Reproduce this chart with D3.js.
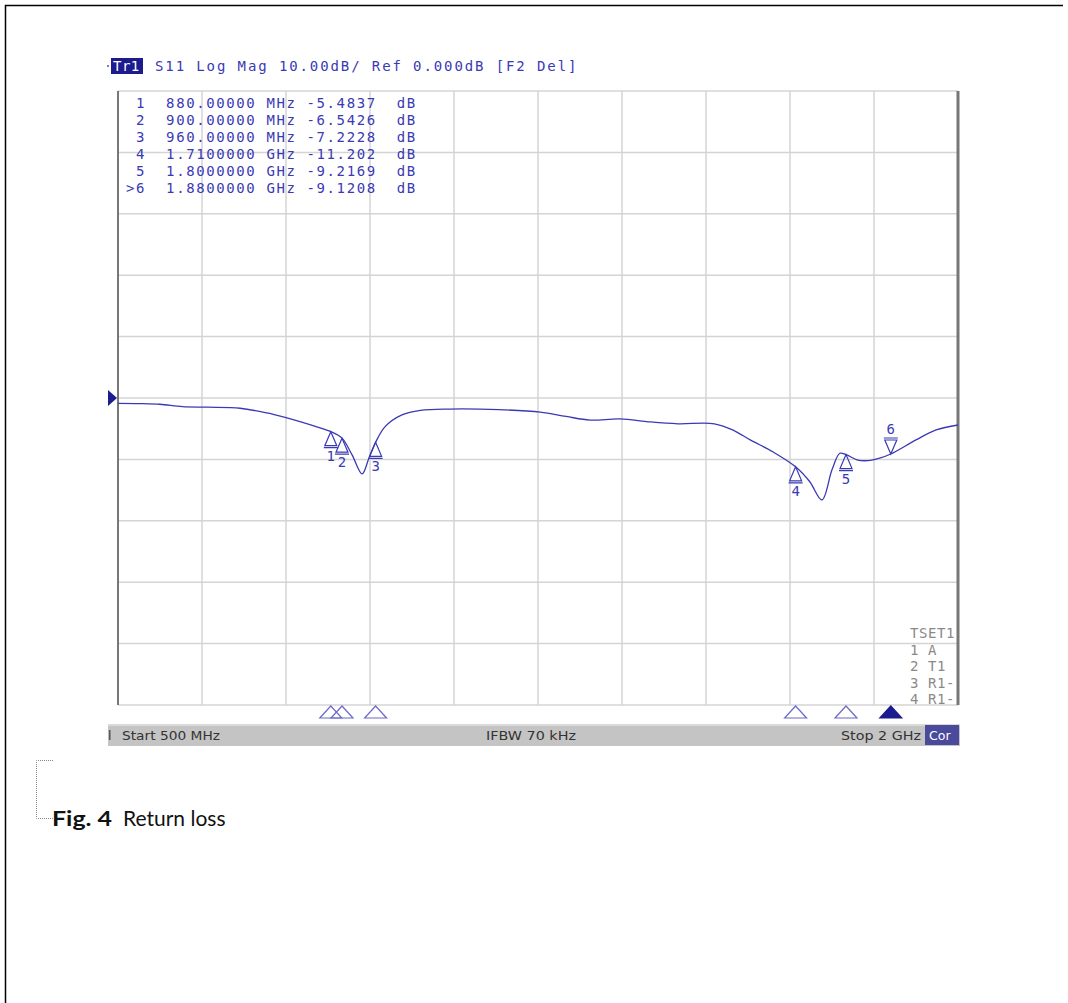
<!DOCTYPE html>
<html>
<head>
<meta charset="utf-8">
<script src="https://cdn.jsdelivr.net/npm/d3@7"></script>
<style>
  body { margin: 0; background: #fff; }
  svg { display: block; }
  .mono { font-family: "DejaVu Sans Mono", monospace; font-size: 14px; letter-spacing: 1.6px; }
</style>
</head>
<body>
<div id="chart"></div>
<script>
// trace, MHz / dB
var freqs = [500, 540, 575, 615, 660, 718, 766, 800, 825, 855, 880, 900, 918, 936, 948, 960, 977, 1007, 1040, 1093, 1180, 1254, 1300, 1343, 1396, 1450, 1500, 1565, 1600, 1629, 1670, 1710, 1735, 1757, 1775, 1789, 1800, 1821, 1839, 1860, 1880, 1925, 1961, 2000];
var dbs = [-0.86, -0.9, -1.02, -1.41, -1.5, -1.67, -2.44, -3.2, -3.85, -4.7, -5.48, -6.54, -9.27, -12.36, -9.8, -7.22, -4.67, -2.76, -2.0, -1.8, -1.9, -2.3, -3.0, -3.6, -3.4, -3.9, -4.2, -4.2, -5.3, -6.83, -8.8, -11.2, -13.6, -16.6, -11.7, -9.0, -9.22, -10.1, -10.2, -9.8, -9.12, -6.83, -5.2, -4.4];

var markerIds = ['1', '2', '3', '4', '5', '6'];
var markerFreqs = [880, 900, 960, 1710, 1800, 1880];
var markerDbs = [-5.4837, -6.5426, -7.2228, -11.202, -9.2169, -9.1208];
var markerRows = [
  ' 1  880.00000 MHz -5.4837  dB',
  ' 2  900.00000 MHz -6.5426  dB',
  ' 3  960.00000 MHz -7.2228  dB',
  ' 4  1.7100000 GHz -11.202  dB',
  ' 5  1.8000000 GHz -9.2169  dB',
  '>6  1.8800000 GHz -9.1208  dB'
];
var tsetRows = ['TSET1', '1 A', '2 T1', '3 R1-', '4 R1-'];
var header = 'S11 Log Mag 10.00dB/ Ref 0.000dB [F2 Del]';

(function(){
  var width = 1068, height = 1003;
  var blue = '#3a3ab4', navy = '#1c1c8e';

  var svg = d3.select('#chart')
    .append('svg')
    .attr('width', width)
    .attr('height', height);

  // page frame (top + left only)
  svg.append('path')
    .attr('d', 'M5.5,1003V5.5H1063')
    .attr('fill', 'none')
    .attr('stroke', '#000')
    .attr('stroke-width', 1.5);

  var x = d3.scaleLinear().domain([500, 2000]).range([118, 958]);
  var y = d3.scaleLinear().domain([-50, 50]).range([705, 91]);

  // grid
  var g = svg.append('g');
  g.selectAll('.vg')
    .data(d3.range(500, 2001, 150))
    .enter().append('line')
    .attr('x1', d => x(d)).attr('x2', d => x(d))
    .attr('y1', y(50)).attr('y2', y(-50))
    .attr('stroke', '#d4d4d4').attr('stroke-width', 1.5);
  g.selectAll('.hg')
    .data(d3.range(-50, 51, 10))
    .enter().append('line')
    .attr('x1', x(500)).attr('x2', x(2000))
    .attr('y1', d => y(d)).attr('y2', d => y(d))
    .attr('stroke', '#d4d4d4').attr('stroke-width', 1.5);

  // frame edges
  g.append('line').attr('x1', x(500)).attr('x2', x(500)).attr('y1', y(50)).attr('y2', y(-50))
    .attr('stroke', '#555').attr('stroke-width', 1.5);
  g.append('line').attr('x1', x(2000)).attr('x2', x(2000)).attr('y1', y(50)).attr('y2', y(-50))
    .attr('stroke', '#777').attr('stroke-width', 3);

  // header
  svg.append('circle').attr('cx', 108).attr('cy', 66).attr('r', 1).attr('fill', '#5555aa');
  svg.append('rect').attr('x', 111).attr('y', 58).attr('width', 32).attr('height', 16).attr('fill', navy);
  svg.append('text').attr('class', 'mono').attr('x', 113).attr('y', 71)
    .attr('fill', '#fff').style('letter-spacing', '0.5px').text('Tr1');
  svg.append('text').attr('class', 'mono').attr('x', 155).attr('y', 71)
    .attr('fill', blue).attr('textLength', 423).attr('lengthAdjust', 'spacing').text(header);

  // marker table
  svg.selectAll('.mrow')
    .data(markerRows)
    .enter().append('text')
    .attr('class', 'mono')
    .attr('x', 126)
    .attr('y', (d, i) => 108 + i * 17)
    .attr('fill', blue)
    .attr('xml:space', 'preserve')
    .style('white-space', 'pre')
    .text(d => d);

  // TSET box at right
  var clip = svg.append('clipPath').attr('id', 'pc');
  clip.append('rect').attr('x', x(500)).attr('y', y(50)).attr('width', x(2000) - x(500) - 1.5).attr('height', y(-50) - y(50));
  svg.append('g').attr('clip-path', 'url(#pc)')
    .selectAll('text')
    .data(tsetRows)
    .enter().append('text')
    .attr('class', 'mono')
    .attr('x', 910)
    .attr('y', (d, i) => 638 + i * 16.5)
    .attr('fill', '#8a8a8a')
    .style('letter-spacing', '0.6px')
    .text(d => d);

  // trace
  var pts = freqs.map((f, i) => [x(f), y(dbs[i])]);
  svg.append('path')
    .attr('d', d3.line().curve(d3.curveCatmullRom.alpha(0.5))(pts))
    .attr('fill', 'none')
    .attr('stroke', blue)
    .attr('stroke-width', 1.3);

  // reference level pointer
  svg.append('path')
    .attr('d', `M108,${y(0) - 8}L117,${y(0)}L108,${y(0) + 8}Z`)
    .attr('fill', navy);

  // markers on the trace
  var mk = svg.selectAll('.mk')
    .data(markerIds)
    .enter().append('g')
    .attr('transform', (d, i) => `translate(${x(markerFreqs[i])},${y(markerDbs[i])})`);
  mk.append('path')
    .attr('d', (d, i) => i === 5
      ? 'M0,0L-6,-14L6,-14ZM-7,-16H7'
      : 'M0,0L-6,14L6,14ZM-7,16H7')
    .attr('fill', 'none')
    .attr('stroke', blue)
    .attr('stroke-width', 1.2);
  mk.append('text')
    .attr('class', 'mono')
    .attr('text-anchor', 'middle')
    .attr('x', 0)
    .attr('y', (d, i) => i === 5 ? -20 : 29)
    .attr('fill', blue)
    .style('letter-spacing', '0px')
    .text(d => d);

  // markers under the plot
  svg.selectAll('.bm')
    .data(markerFreqs)
    .enter().append('path')
    .attr('d', (d, i) => {
      var cx = x(d);
      return `M${cx},706L${cx + 11},718L${cx - 11},718Z`;
    })
    .attr('fill', (d, i) => i === 5 ? navy : 'none')
    .attr('stroke', (d, i) => i === 5 ? navy : '#6a6ac8')
    .attr('stroke-width', 1.2);

  // status bar
  var sb = svg.append('g').style('font-family', '"DejaVu Sans", sans-serif').style('font-size', '12.5px');
  sb.append('rect').attr('x', 108).attr('y', 724).attr('width', 852).attr('height', 22).attr('fill', '#c4c4c4');
  sb.append('rect').attr('x', 108).attr('y', 724).attr('width', 852).attr('height', 2).attr('fill', '#dadada');
  sb.append('rect').attr('x', 925).attr('y', 725).attr('width', 34).attr('height', 20).attr('fill', '#4a4a9c');
  sb.append('text').attr('x', 108).attr('y', 740).attr('fill', '#333').text('l');
  sb.append('text').attr('x', 122).attr('y', 740).attr('fill', '#333')
    .attr('textLength', 98).attr('lengthAdjust', 'spacingAndGlyphs').text('Start 500 MHz');
  sb.append('text').attr('x', 486).attr('y', 740).attr('fill', '#333')
    .attr('textLength', 90).attr('lengthAdjust', 'spacingAndGlyphs').text('IFBW 70 kHz');
  sb.append('text').attr('x', 841).attr('y', 740).attr('fill', '#333')
    .attr('textLength', 80).attr('lengthAdjust', 'spacingAndGlyphs').text('Stop 2 GHz');
  sb.append('text').attr('x', 929).attr('y', 740).attr('fill', '#fff').text('Cor');

  // caption
  svg.append('path')
    .attr('d', 'M53,760.5H36.5V818.5H53')
    .attr('fill', 'none')
    .attr('stroke', '#888')
    .attr('stroke-width', 1)
    .attr('stroke-dasharray', '1,1');
  var cap = svg.append('text').attr('x', 52).attr('y', 826)
    .style('font-family', 'Lato, sans-serif').style('font-size', '21px').attr('fill', '#111');
  cap.append('tspan').style('font-weight', 'bold')
    .attr('textLength', 60).attr('lengthAdjust', 'spacingAndGlyphs').text('Fig. 4');
  cap.append('tspan').attr('x', 123).text('Return loss');
})()
</script>
</body>
</html>
